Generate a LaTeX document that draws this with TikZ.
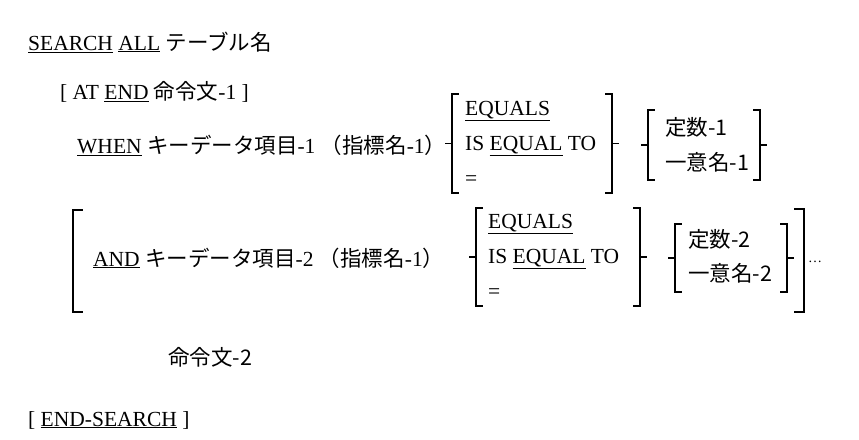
\documentclass[tikz,border=0pt]{standalone}
\usepackage{fontspec}
\setmainfont{Liberation Serif}
\newfontfamily\jp{Noto Sans CJK JP}
\usetikzlibrary{positioning}
% square bracket pair with a small tick at mid height (brace style)
\newcommand{\tickbrackets}[4]{%
  \draw[bracket] (#1+6,#3) -- (#1,#3) -- (#1,#4) -- (#1+6,#4);
  \draw[bracket] (#1,{(#3+#4)/2}) -- (#1-6,{(#3+#4)/2});
  \draw[bracket] (#2-6,#3) -- (#2,#3) -- (#2,#4) -- (#2-6,#4);
  \draw[bracket] (#2,{(#3+#4)/2}) -- (#2+6,{(#3+#4)/2});
}
\begin{document}
\begin{tikzpicture}
    [
        x=1pt, y=-1pt,
        txt/.style={anchor=west, inner sep=0pt, font=\fontsize{21.5}{24}\selectfont},
        bracket/.style={line width=1.4pt, line cap=rect},
        bigbracket/.style={line width=2.6pt, line cap=rect},
    ]
    \useasboundingbox (0,0) rectangle (859,439);
    \node[txt] (head) at (28,42) {\underline{SEARCH} \underline{ALL} {\jp テーブル名}};
    \node[txt] (atend) at (60,92) {[ AT \underline{END} {\jp 命令文}-1 ]};
    \node[txt] (when) at (77,145) {\underline{WHEN} {\jp キーデータ項目}-1 {\jp （指標名}-1{\jp ）}};
    % first comparison
    \tickbrackets{452}{612}{94}{193}
    \node[txt] (eq1) at (465,111) {\underline{EQUALS}};
    \node[txt] (iseq1) at (465,146) {IS \underline{EQUAL} TO};
    \node[txt] (sym1) at (465,181) {=};
    \tickbrackets{648}{760}{110}{180}
    \node[txt] (lit1) at (665,127) {\jp 定数-1};
    \node[txt] (id1) at (665,162) {\jp 一意名-1};
    % repeated AND clause
    \draw[bigbracket] (82,210) -- (73,210) -- (73,312) -- (82,312);
    \draw[bigbracket] (795,209) -- (804,209) -- (804,312) -- (795,312);
    \node[txt] (and) at (93,258) {\underline{AND} {\jp キーデータ項目}-2 {\jp （指標名}-1{\jp ）}};
    \tickbrackets{476}{640}{208}{306}
    \node[txt] (eq2) at (488,224) {\underline{EQUALS}};
    \node[txt] (iseq2) at (488,259) {IS \underline{EQUAL} TO};
    \node[txt] (sym2) at (488,294) {=};
    \tickbrackets{675}{787}{224}{292}
    \node[txt] (lit2) at (688,239) {\jp 定数-2};
    \node[txt] (id2) at (688,273) {\jp 一意名-2};
    \node[txt] (dots) at (808,262) {\fontsize{14}{16}\selectfont\dots};
    \node[txt] (stmt2) at (168,357) {\jp 命令文-2};
    \node[txt] (endsearch) at (28,420) {[ \underline{END-SEARCH} ]};
\end{tikzpicture}
\end{document}
